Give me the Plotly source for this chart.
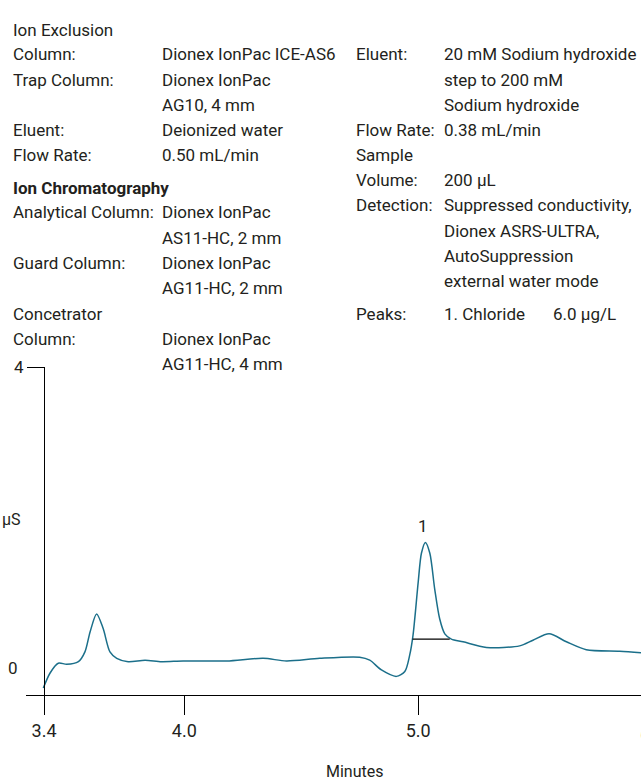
import plotly.graph_objects as go

# ---------------- data ----------------
time_min = [3.397, 3.426, 3.461, 3.497, 3.547, 3.575, 3.597, 3.625, 3.653, 3.682, 3.711,
            3.760, 3.832, 3.903, 3.995, 4.181, 4.337, 4.437, 4.579, 4.750, 4.793, 4.843,
            4.907, 4.943, 4.964, 4.978, 5.000, 5.014, 5.031, 5.050, 5.071, 5.092, 5.114,
            5.142, 5.192, 5.292, 5.434, 5.491, 5.560, 5.634, 5.719, 5.862, 5.953]
signal_us = [-0.26, -0.06, 0.07, 0.056, 0.09, 0.22, 0.485, 0.725, 0.53, 0.22, 0.135,
             0.09, 0.11, 0.09, 0.10, 0.10, 0.135, 0.10, 0.135, 0.15, 0.11, -0.02,
             -0.105, -0.04, 0.18, 0.44, 1.14, 1.53, 1.675, 1.53, 1.05, 0.66, 0.46,
             0.39, 0.355, 0.28, 0.30, 0.375, 0.46, 0.355, 0.25, 0.23, 0.21]
baseline_x = [4.976, 5.135]
baseline_y = [0.39, 0.39]
peak_label = "1"
peak_x = 5.02

x_tick_vals = [3.4, 4.0, 5.0, 6.0]
x_tick_text = ["3.4", "4.0", "5.0", "6.0"]
y_tick_vals = [4]
y_tick_text = ["4"]
x_range = [3.323, 5.953]
y_range = [-0.354, 4.0]

left_labels = ["Ion Exclusion", "Column:", "Trap Column:", "", "Eluent:", "Flow Rate:"]
left_values = ["", "Dionex IonPac ICE-AS6", "Dionex IonPac", "AG10, 4 mm", "Deionized water", "0.50 mL/min"]
ic_heading = "Ion Chromatography"
ic_labels = ["Analytical Column:", "", "Guard Column:", "", "Concetrator", "Column:", ""]
ic_values = ["Dionex IonPac", "AS11-HC, 2 mm", "Dionex IonPac", "AG11-HC, 2 mm", "", "Dionex IonPac", "AG11-HC, 4 mm"]
right_labels = ["Eluent:", "", "", "Flow Rate:", "Sample", "Volume:", "Detection:", "", "", "", "Peaks:"]
right_values = ["20 mM Sodium hydroxide", "step to 200 mM", "Sodium hydroxide", "0.38 mL/min", "",
                "200 µL", "Suppressed conductivity,", "Dionex ASRS-ULTRA,", "AutoSuppression",
                "external water mode", "1. Chloride"]
peak_amount = "6.0 µg/L"

# ---------------- layout (pixels) ----------------
W, H = 641, 781
left_rows_y = [20, 45, 70.5, 96, 121.5, 147]
ic_heading_y = 180
ic_rows_y = [205, 231, 256, 282, 308, 333, 359]
right_rows_y = [45, 70.5, 96, 121.5, 147, 172.5, 198, 223.5, 249, 274.5, 308]

FONT = "Roboto, sans-serif"
TXT = "#231f20"
TRACE = "#1b6f8a"
FS = 17


def px(x):
    return x / W


def py(y):
    return 1 - y / H


fig = go.Figure()
fig.add_trace(go.Scatter(x=time_min, y=signal_us, mode="lines",
                         line=dict(color=TRACE, width=1.5, shape="spline", smoothing=0.8),
                         hoverinfo="skip", showlegend=False))
fig.add_trace(go.Scatter(x=baseline_x, y=baseline_y, mode="lines",
                         line=dict(color="black", width=1.3),
                         hoverinfo="skip", showlegend=False))

ann = []


def text(x, y, s, size=FS, bold=False, anchor="left"):
    if not s:
        return
    ann.append(dict(x=px(x), y=py(y), xref="paper", yref="paper", text=f"<b>{s}</b>" if bold else s,
                    showarrow=False, xanchor=anchor, yanchor="middle",
                    font=dict(family=FONT, size=size, color=TXT)))


for lab, val, y in zip(left_labels, left_values, left_rows_y):
    text(11, y, lab)
    text(160, y, val)
text(11, ic_heading_y, ic_heading, bold=True)
for lab, val, y in zip(ic_labels, ic_values, ic_rows_y):
    text(11, y, lab)
    text(160, y, val)
for lab, val, y in zip(right_labels, right_values, right_rows_y):
    text(354, y, lab)
    text(442, y, val)
text(551, right_rows_y[-1], peak_amount)

# axis-related labels
ann.append(dict(x=px(20), y=0, xref="paper", yref="y", text="0", showarrow=False,
                xanchor="right", yanchor="middle", font=dict(family=FONT, size=17, color=TXT)))
ann.append(dict(x=px(0), y=py(516), xref="paper", yref="paper", text="µS", showarrow=False,
                xanchor="left", yanchor="middle", font=dict(family=FONT, size=16, color=TXT)))
ann.append(dict(x=px(355), y=py(771), xref="paper", yref="paper", text="Minutes", showarrow=False,
                xanchor="center", yanchor="middle", font=dict(family=FONT, size=16, color=TXT)))
ann.append(dict(x=px(652), y=py(734), xref="paper", yref="paper", text="6.0", showarrow=False,
                xanchor="center", yanchor="middle", font=dict(family=FONT, size=18, color=TXT)))
ann.append(dict(x=peak_x, y=max(signal_us), xref="x", yref="y", text=peak_label, showarrow=False,
                xanchor="center", yanchor="middle", yshift=16,
                font=dict(family=FONT, size=17, color=TXT)))

fig.update_layout(
    width=W, height=H, margin=dict(l=0, r=0, t=0, b=0),
    paper_bgcolor="white", plot_bgcolor="white",
    annotations=ann,
    xaxis=dict(domain=[px(26), 1], range=x_range, showgrid=False, zeroline=False,
               showline=True, linecolor="black", linewidth=1.3,
               ticks="outside", ticklen=19, tickwidth=1.3, tickcolor="black",
               tickvals=x_tick_vals, ticktext=x_tick_text,
               tickfont=dict(family=FONT, size=18, color=TXT), anchor="y"),
    yaxis=dict(domain=[py(694), py(362)], range=y_range, showgrid=False, zeroline=False,
               showline=True, linecolor="black", linewidth=1.3,
               ticks="outside", ticklen=17, tickwidth=1.3, tickcolor="black",
               tickvals=y_tick_vals, ticktext=y_tick_text,
               tickfont=dict(family=FONT, size=17, color=TXT),
               anchor="free", position=px(44)),
)

fig.write_html("out.html")
